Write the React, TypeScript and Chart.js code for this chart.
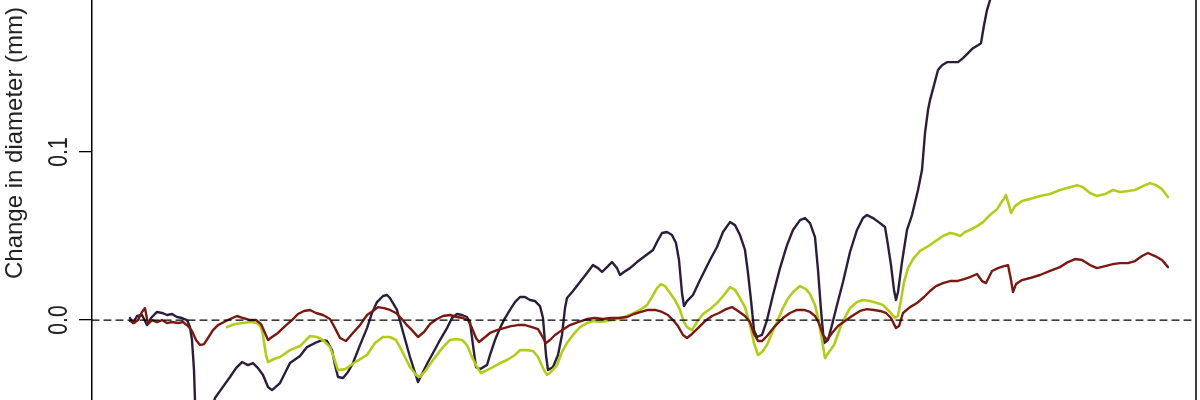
import React, { useEffect, useRef } from "react";
import { Chart, registerables } from "chart.js";

Chart.register(...registerables);

// time in hours, change in diameter in mm
const timeRange: number[] = [0, 1104];
const zeroLine: number[] = [0, 0];
const yTicks: number[] = [0.0, 0.1, 0.2];
const yTitle = "Change in diameter (mm)";

const stemPurple: [number, number][] = [
  [38, 0.0012], [41, -0.0018], [45, 0.0024], [50, 0.003], [55, -0.003], [59, 0.0012], [65, 0.0048], [70, 0.0042],
  [75, 0.003], [80, 0.0036], [85, 0.0018], [90, 0.0012], [95, 0.0], [98, -0.0042], [100, -0.0119], [102, -0.0298],
  [103, -0.0476], [106, -0.0595], [112, -0.0655], [118, -0.0565], [123, -0.0464], [130, -0.0405], [138, -0.0339],
  [144, -0.0286], [150, -0.025], [156, -0.0268], [161, -0.0256], [166, -0.0286], [171, -0.0327], [176, -0.0399],
  [180, -0.0417], [188, -0.0375], [198, -0.0256], [208, -0.0214], [215, -0.0161], [225, -0.0131], [230, -0.0119],
  [235, -0.0125], [240, -0.0179], [243, -0.0268], [246, -0.0339], [251, -0.0345], [256, -0.0309], [261, -0.0256],
  [268, -0.0149], [275, -0.0048], [280, 0.0042], [285, 0.0107], [291, 0.0143], [295, 0.0149], [298, 0.0131],
  [305, 0.006], [311, -0.0071], [318, -0.022], [326, -0.0369], [331, -0.0309], [336, -0.025], [341, -0.0196],
  [348, -0.0119], [355, -0.0048], [360, 0.0012], [365, 0.0036], [370, 0.003], [375, 0.0018], [378, -0.0012],
  [381, -0.0149], [384, -0.028], [388, -0.0292], [395, -0.0268], [398, -0.0208], [403, -0.0119], [408, -0.0048],
  [413, 0.0012], [418, 0.006], [423, 0.0107], [428, 0.0137], [433, 0.0137], [438, 0.0119], [443, 0.0113],
  [448, 0.0083], [451, 0.0012], [454, -0.0208], [456, -0.0298], [461, -0.028], [466, -0.0208], [470, -0.0089],
  [473, 0.0071], [475, 0.0131], [481, 0.0173], [488, 0.0226], [495, 0.028], [501, 0.0327], [506, 0.0309],
  [510, 0.0286], [515, 0.0315], [520, 0.0345], [525, 0.0309], [528, 0.0268], [532, 0.0286], [538, 0.0309],
  [545, 0.0345], [553, 0.0381], [561, 0.0417], [566, 0.0476], [570, 0.0518], [575, 0.0524], [580, 0.0506],
  [584, 0.0458], [587, 0.0357], [590, 0.0161], [592, 0.0083], [595, 0.0113], [601, 0.0149], [608, 0.0238],
  [613, 0.0298], [618, 0.0357], [625, 0.0435], [631, 0.0524], [638, 0.0583], [643, 0.0565], [648, 0.0506],
  [653, 0.0417], [656, 0.028], [659, 0.0119], [662, -0.006], [665, -0.0101], [670, -0.0089], [675, 0.0],
  [681, 0.0149], [688, 0.0309], [695, 0.0446], [701, 0.0536], [708, 0.0595], [713, 0.0607], [718, 0.0577],
  [723, 0.0494], [726, 0.0298], [729, 0.006], [732, -0.0137], [736, -0.0119], [740, -0.003], [745, 0.0089],
  [751, 0.0226], [758, 0.0405], [765, 0.0536], [771, 0.0607], [775, 0.0625], [781, 0.0607], [788, 0.0577],
  [793, 0.0554], [796, 0.0446], [799, 0.0327], [802, 0.0179], [804, 0.0119], [806, 0.0167], [810, 0.0345],
  [815, 0.0536], [820, 0.0625], [826, 0.0774], [830, 0.0893], [833, 0.1113], [836, 0.125], [838, 0.1309],
  [842, 0.1398], [846, 0.1488], [850, 0.1517], [855, 0.1535], [861, 0.1535], [866, 0.1535], [871, 0.1559],
  [876, 0.1589], [881, 0.1618], [886, 0.1636], [889, 0.1648], [892, 0.1755], [895, 0.1845], [898, 0.1904],
  [903, 0.1994], [908, 0.2053], [930, 0.212], [1000, 0.218], [1076, 0.222],
];

const stemGreen: [number, number][] = [
  [135, -0.0042], [143, -0.0024], [151, -0.0018], [158, -0.0012], [165, -0.0018], [169, -0.0042], [171, -0.0089],
  [174, -0.0208], [176, -0.025], [182, -0.0232], [188, -0.022], [198, -0.0179], [208, -0.0155], [218, -0.0095],
  [225, -0.0101], [231, -0.0119], [238, -0.0161], [242, -0.0226], [246, -0.0298], [253, -0.0292], [265, -0.0244],
  [275, -0.0208], [283, -0.0137], [291, -0.0101], [298, -0.0101], [304, -0.0119], [308, -0.0161], [313, -0.022],
  [318, -0.028], [324, -0.0327], [328, -0.0339], [334, -0.0298], [341, -0.0238], [351, -0.0161], [358, -0.0119],
  [364, -0.0113], [370, -0.0119], [375, -0.0149], [380, -0.022], [385, -0.028], [389, -0.0315], [395, -0.0298],
  [401, -0.028], [408, -0.0256], [415, -0.0238], [423, -0.0208], [428, -0.0179], [435, -0.0179], [441, -0.0184],
  [446, -0.022], [451, -0.0286], [455, -0.0327], [459, -0.0309], [465, -0.0268], [470, -0.019], [475, -0.0137],
  [481, -0.0089], [488, -0.0042], [495, -0.0018], [501, -0.0006], [508, -0.0012], [515, -0.0006], [521, 0.0],
  [528, 0.0012], [535, 0.0024], [542, 0.0042], [548, 0.006], [555, 0.0089], [560, 0.0137], [565, 0.019],
  [569, 0.0214], [573, 0.0202], [578, 0.0161], [583, 0.0119], [588, 0.006], [592, -0.0012], [595, -0.0042],
  [600, -0.006], [605, -0.0012], [611, 0.0036], [618, 0.0065], [625, 0.0101], [632, 0.0149], [638, 0.0196],
  [643, 0.0179], [648, 0.0131], [653, 0.0077], [658, -0.003], [662, -0.0137], [666, -0.0208], [670, -0.019],
  [675, -0.0149], [680, -0.0077], [685, -0.0012], [690, 0.006], [695, 0.0119], [701, 0.0167], [708, 0.0202],
  [714, 0.0184], [718, 0.0155], [723, 0.0089], [726, 0.0012], [730, -0.0119], [733, -0.0226], [737, -0.019],
  [742, -0.0149], [750, -0.0018], [758, 0.0071], [765, 0.0107], [771, 0.0119], [778, 0.0113], [785, 0.0101],
  [791, 0.0089], [798, 0.0048], [803, 0.0012], [806, 0.0024], [809, 0.0119], [812, 0.0226], [816, 0.0309],
  [821, 0.0363], [828, 0.0411], [838, 0.0446], [845, 0.0476], [851, 0.05], [858, 0.0518], [863, 0.0512],
  [868, 0.05], [873, 0.0524], [878, 0.0536], [885, 0.0559], [891, 0.0583], [898, 0.0625], [905, 0.066],
  [911, 0.0714], [914, 0.0744], [917, 0.0684], [919, 0.0637], [923, 0.0678], [930, 0.0708], [938, 0.072],
  [948, 0.0738], [958, 0.075], [968, 0.0774], [978, 0.0791], [985, 0.0803], [991, 0.0791], [998, 0.0756],
  [1005, 0.0738], [1013, 0.075], [1021, 0.0774], [1028, 0.0762], [1036, 0.0768], [1043, 0.0774], [1051, 0.0797],
  [1058, 0.0815], [1064, 0.0803], [1070, 0.0779], [1076, 0.0732],
];

const stemRed: [number, number][] = [
  [38, -0.0006], [42, -0.0018], [46, 0.0], [50, 0.0048], [53, 0.0071], [56, -0.0024], [60, 0.0], [65, -0.0012],
  [70, 0.0], [75, -0.0018], [80, -0.0012], [86, -0.0018], [91, -0.0012], [96, -0.0036], [100, -0.0065],
  [104, -0.0119], [108, -0.0149], [112, -0.0143], [116, -0.0107], [121, -0.006], [126, -0.003], [132, -0.0012],
  [138, 0.0006], [145, 0.0024], [151, 0.0012], [158, 0.0], [164, 0.0], [169, -0.0024], [173, -0.0077],
  [176, -0.0119], [180, -0.0101], [186, -0.0077], [193, -0.0036], [200, 0.0], [206, 0.0036], [212, 0.0054],
  [218, 0.006], [224, 0.0042], [231, 0.003], [238, 0.0006], [243, -0.0048], [248, -0.0107], [254, -0.0125],
  [260, -0.0083], [268, -0.003], [275, 0.003], [281, 0.0054], [286, 0.0077], [292, 0.0071], [298, 0.006],
  [304, 0.0042], [309, 0.0012], [314, -0.0024], [320, -0.006], [326, -0.0101], [332, -0.0071], [338, -0.0024],
  [345, 0.0006], [351, 0.0024], [358, 0.003], [365, 0.0018], [371, 0.0012], [376, 0.0], [380, -0.0048],
  [384, -0.0107], [387, -0.0131], [392, -0.0107], [398, -0.0077], [405, -0.006], [412, -0.0048], [419, -0.0036],
  [426, -0.003], [433, -0.003], [440, -0.0042], [446, -0.0054], [450, -0.0095], [454, -0.0137], [458, -0.0119],
  [463, -0.0089], [470, -0.006], [478, -0.003], [486, -0.0012], [495, 0.0006], [503, 0.0012], [511, 0.0006],
  [519, 0.0012], [527, 0.0012], [535, 0.0018], [542, 0.0036], [549, 0.0048], [556, 0.006], [563, 0.006],
  [570, 0.0048], [576, 0.003], [581, 0.0], [586, -0.0036], [591, -0.0089], [595, -0.0107], [600, -0.0083],
  [606, -0.0048], [613, -0.0006], [620, 0.0024], [627, 0.0042], [634, 0.0065], [640, 0.0077], [646, 0.0054],
  [653, 0.0024], [658, -0.0012], [662, -0.0083], [666, -0.0125], [670, -0.0125], [675, -0.0095], [683, -0.0036],
  [691, 0.0012], [698, 0.0042], [705, 0.006], [712, 0.006], [718, 0.0048], [723, 0.0024], [727, -0.0018],
  [731, -0.0089], [735, -0.0119], [740, -0.0077], [746, -0.0036], [753, -0.0006], [760, 0.0024], [768, 0.0054],
  [775, 0.0065], [782, 0.006], [788, 0.0054], [794, 0.0042], [799, 0.0012], [804, -0.0048], [807, -0.0036],
  [811, 0.0042], [818, 0.0077], [825, 0.0101], [832, 0.0137], [838, 0.0173], [844, 0.0202], [851, 0.022],
  [858, 0.0232], [865, 0.0232], [872, 0.0244], [878, 0.0256], [885, 0.0274], [890, 0.0232], [894, 0.022],
  [900, 0.0292], [906, 0.0309], [912, 0.0321], [916, 0.0327], [919, 0.0238], [921, 0.0167], [924, 0.0214],
  [930, 0.0238], [938, 0.025], [948, 0.0268], [958, 0.0292], [968, 0.0315], [976, 0.0345], [983, 0.0363],
  [990, 0.0357], [998, 0.0327], [1005, 0.0309], [1013, 0.0321], [1021, 0.0333], [1028, 0.0339], [1036, 0.0339],
  [1043, 0.0351], [1050, 0.0381], [1056, 0.0399], [1063, 0.0381], [1070, 0.0357], [1076, 0.0315],
];

const toXY = (pairs: [number, number][]) => pairs.map(([x, y]) => ({ x, y }));

export default function App() {
  const ref = useRef<HTMLCanvasElement | null>(null);

  useEffect(() => {
    document.body.style.margin = "0";
    const canvas = ref.current;
    if (!canvas) return;

    const textPlugin = {
      id: "rAxisText",
      afterDraw(chart: any) {
        const { ctx, chartArea } = chart;
        const yScale = chart.scales.y;
        ctx.save();
        // right frame edge
        ctx.strokeStyle = "#000";
        ctx.lineWidth = 1.5;
        ctx.beginPath();
        ctx.moveTo(chartArea.right, 0);
        ctx.lineTo(chartArea.right, chart.height);
        ctx.stroke();
        // tick labels
        ctx.fillStyle = "#222";
        ctx.textAlign = "center";
        ctx.textBaseline = "middle";
        ctx.font = "21px 'Liberation Sans', Arial, sans-serif";
        for (const v of yTicks) {
          const py = yScale.getPixelForValue(v);
          ctx.save();
          ctx.translate(59, py);
          ctx.rotate(-Math.PI / 2);
          ctx.scale(1, 1.3);
          ctx.fillText(v.toFixed(1), 0, 0);
          ctx.restore();
        }
        // axis title
        ctx.font = "24px 'Liberation Sans', Arial, sans-serif";
        ctx.save();
        ctx.translate(15, 143);
        ctx.rotate(-Math.PI / 2);
        ctx.fillText(yTitle, 0, 0);
        ctx.restore();
        ctx.restore();
      },
    };

    const chart = new Chart(canvas, {
      type: "line",
      data: {
        datasets: [
          {
            label: "zero",
            data: timeRange.map((x, i) => ({ x, y: zeroLine[i] })),
            borderColor: "#000",
            borderWidth: 1.3,
            borderDash: [7, 5],
            pointRadius: 0,
          },
          {
            label: "red",
            data: toXY(stemRed),
            borderColor: "#7a1912",
            borderWidth: 2.4,
            pointRadius: 0,
          },
          {
            label: "green",
            data: toXY(stemGreen),
            borderColor: "#b3cc1c",
            borderWidth: 2.6,
            pointRadius: 0,
          },
          {
            label: "purple",
            data: toXY(stemPurple),
            borderColor: "#2b1e3c",
            borderWidth: 2.4,
            pointRadius: 0,
          },
        ],
      },
      options: {
        animation: false,
        responsive: false,
        maintainAspectRatio: false,
        layout: { padding: { left: 0, right: 4, top: 0, bottom: 0 } },
        plugins: { legend: { display: false }, tooltip: { enabled: false } },
        elements: { line: { tension: 0, borderJoinStyle: "round", borderCapStyle: "round" } },
        scales: {
          x: { type: "linear", min: timeRange[0], max: timeRange[1], display: false },
          y: {
            type: "linear",
            min: -0.0476,
            max: 0.1905,
            afterBuildTicks: (s: any) => {
              s.ticks = yTicks.map((v) => ({ value: v }));
            },
            afterFit: (s: any) => {
              s.width = 92;
            },
            ticks: { display: false },
            grid: {
              display: true,
              drawOnChartArea: false,
              drawTicks: true,
              tickLength: 13,
              color: "#000",
              lineWidth: 1.3,
            },
            border: { display: true, color: "#000", width: 1.5 },
          },
        },
      },
      plugins: [textPlugin],
    });

    return () => chart.destroy();
  }, []);

  return (
    <div style={{ width: 1200, height: 400, background: "#fff" }}>
      <canvas ref={ref} width={1200} height={400} style={{ display: "block" }} />
    </div>
  );
}
